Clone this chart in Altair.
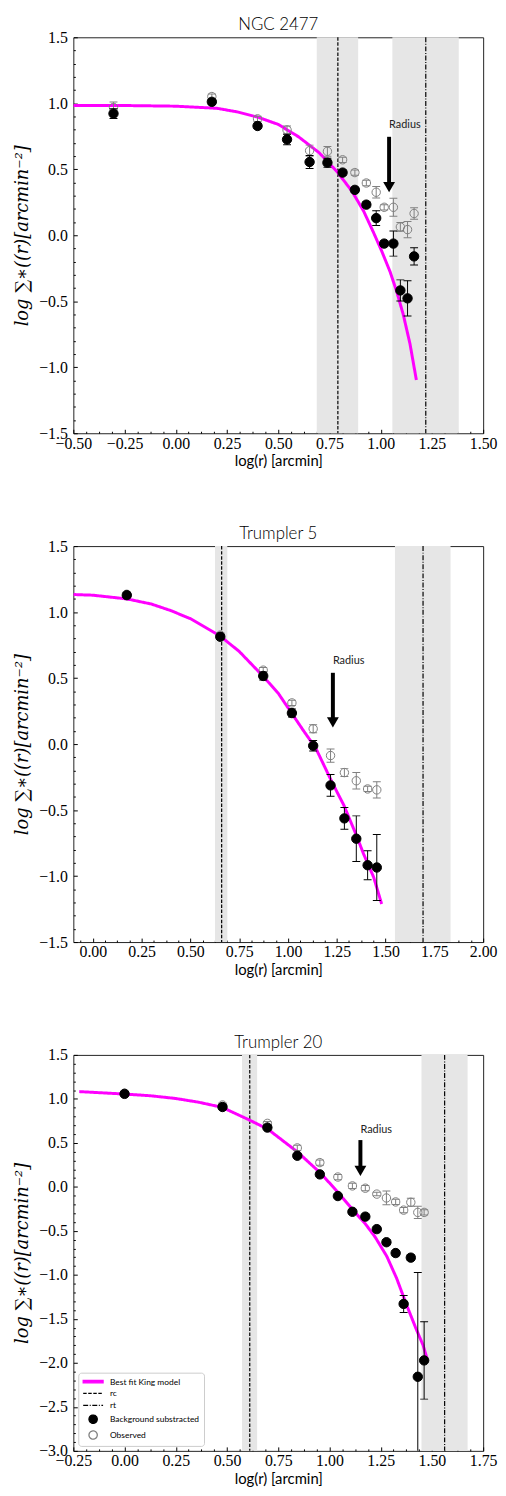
import altair as alt
import numpy as np
import pandas as pd

SERIES = ["Best fit King model", "rc", "rt", "Background substracted", "Observed"]

# ---------------- NGC 2477 ----------------
ngc_r = [-0.304, 0.176, 0.399, 0.543, 0.653, 0.740, 0.814, 0.874, 0.930, 0.978, 1.017, 1.062, 1.096, 1.131, 1.163]
ngc_bg = [0.922, 1.011, 0.828, 0.726, 0.555, 0.550, 0.475, 0.344, 0.232, 0.130, -0.063, -0.063, -0.418, -0.478, -0.160]
ngc_bg_err = [0.037, 0.02, 0.02, 0.04, 0.05, 0.034, 0.02, 0.02, 0.02, 0.056, 0.02, 0.095, 0.08, 0.134, 0.065]
ngc_obs = [0.969, 1.051, 0.882, 0.798, 0.641, 0.636, 0.572, 0.475, 0.396, 0.326, 0.212, 0.212, 0.063, 0.043, 0.165]
ngc_obs_err = [0.04, 0.02, 0.02, 0.03, 0.042, 0.037, 0.02, 0.02, 0.02, 0.043, 0.02, 0.068, 0.033, 0.062, 0.043]
ngc_king_r = [-0.5, -0.25, 0.0, 0.2, 0.3, 0.4, 0.5, 0.6, 0.7, 0.788, 0.861, 0.917, 0.965, 1.005, 1.046, 1.078, 1.110, 1.143, 1.174]
ngc_king = [0.984, 0.983, 0.978, 0.962, 0.935, 0.895, 0.84, 0.745, 0.625, 0.480, 0.331, 0.182, 0.021, -0.12, -0.277, -0.426, -0.600, -0.823, -1.096]

# ---------------- Trumpler 5 ----------------
tr5_r = [0.174, 0.653, 0.873, 1.020, 1.129, 1.218, 1.289, 1.350, 1.408, 1.455]
tr5_bg = [1.128, 0.813, 0.516, 0.235, -0.013, -0.313, -0.563, -0.717, -0.918, -0.935]
tr5_bg_err = [0.02, 0.02, 0.03, 0.03, 0.04, 0.083, 0.082, 0.173, 0.11, 0.25]
tr5_obs = [1.135, 0.826, 0.560, 0.312, 0.116, -0.087, -0.216, -0.278, -0.340, -0.347]
tr5_obs_err = [0.02, 0.02, 0.02, 0.02, 0.03, 0.05, 0.03, 0.062, 0.02, 0.062]
tr5_king_r = [-0.1, 0.0, 0.174, 0.3, 0.4, 0.5, 0.651, 0.75, 0.871, 0.95, 1.018, 1.08, 1.142, 1.226, 1.286, 1.350, 1.388, 1.439, 1.480]
tr5_king = [1.133, 1.128, 1.10, 1.061, 1.011, 0.950, 0.820, 0.702, 0.516, 0.385, 0.236, 0.10, -0.03, -0.29, -0.463, -0.69, -0.835, -1.009, -1.212]

# ---------------- Trumpler 20 ----------------
tr20_r = [0.0, 0.478, 0.697, 0.843, 0.953, 1.041, 1.112, 1.175, 1.231, 1.278, 1.323, 1.362, 1.397, 1.431, 1.462]
tr20_bg = [1.057, 0.908, 0.674, 0.354, 0.142, -0.104, -0.283, -0.338, -0.480, -0.629, -0.752, -1.330, -0.804, -2.158, -1.972]
tr20_bg_err = [0.02, 0.02, 0.02, 0.02, 0.02, 0.02, 0.02, 0.02, 0.02, 0.03, 0.03, 0.097, 0.03, 1.185, 0.44]
tr20_obs = [1.065, 0.931, 0.722, 0.443, 0.276, 0.112, 0.011, -0.015, -0.082, -0.126, -0.171, -0.264, -0.175, -0.290, -0.290]
tr20_obs_err = [0.02, 0.02, 0.02, 0.03, 0.03, 0.03, 0.03, 0.03, 0.02, 0.078, 0.03, 0.03, 0.045, 0.069, 0.03]
tr20_king_r = [-0.221, 0.0, 0.125, 0.249, 0.36, 0.475, 0.603, 0.700, 0.845, 0.958, 1.038, 1.110, 1.175, 1.223, 1.28, 1.328, 1.376, 1.424, 1.457, 1.476]
tr20_king = [1.083, 1.055, 1.036, 1.005, 0.963, 0.905, 0.767, 0.655, 0.395, 0.153, -0.052, -0.25, -0.42, -0.57, -0.79, -1.04, -1.34, -1.62, -1.80, -1.95]

# ---------------- per-panel annotations ----------------
titles = ["NGC 2477", "Trumpler 5", "Trumpler 20"]
rc_line = [0.791, 0.660, 0.611]
rc_band = [(0.688, 0.890), (0.626, 0.689), (0.573, 0.647)]
rt_line = [1.220, 1.692, 1.562]
rt_band = [(1.057, 1.381), (1.548, 1.833), (1.449, 1.674)]
arrow_x = [1.041, 1.230, 1.151]
arrow_top = [0.746, 0.540, 0.532]
arrow_tip = [0.326, 0.126, 0.123]
radius_text_y = [0.832, 0.627, 0.644]
x_domains = [(-0.5, 1.5), (-0.1, 2.0), (-0.25, 1.75)]
y_domains = [(-1.5, 1.5), (-1.5, 1.5), (-3.0, 1.5)]
x_ticks = [
    [-0.5, -0.25, 0.0, 0.25, 0.5, 0.75, 1.0, 1.25, 1.5],
    [0.0, 0.25, 0.5, 0.75, 1.0, 1.25, 1.5, 1.75, 2.0],
    [-0.25, 0.0, 0.25, 0.5, 0.75, 1.0, 1.25, 1.5, 1.75],
]
y_ticks = [
    [-1.5, -1.0, -0.5, 0.0, 0.5, 1.0, 1.5],
    [-1.5, -1.0, -0.5, 0.0, 0.5, 1.0, 1.5],
    [-3.0, -2.5, -2.0, -1.5, -1.0, -0.5, 0.0, 0.5, 1.0, 1.5],
]
X_MINOR_STEP = 0.0625
Y_MINOR_STEP = 0.1

DATA = [
    (ngc_r, ngc_bg, ngc_bg_err, ngc_obs, ngc_obs_err, ngc_king_r, ngc_king),
    (tr5_r, tr5_bg, tr5_bg_err, tr5_obs, tr5_obs_err, tr5_king_r, tr5_king),
    (tr20_r, tr20_bg, tr20_bg_err, tr20_obs, tr20_obs_err, tr20_king_r, tr20_king),
]

PLOT_W = 414
PLOT_H = 400
SERIF = "Liberation Serif"
SANS = "Lato"


def minor_ticks(lo, hi, step, majors):
    start = np.ceil(lo / step - 1e-9) * step
    vals = np.round(np.arange(start, hi + 1e-9, step), 5)
    return [float(v) for v in vals if all(abs(v - m) > 1e-6 for m in majors)]


def panel(i, show_legend):
    r, bg, bg_err, obs, obs_err, kr, ky = DATA[i]
    xs = alt.Scale(domain=list(x_domains[i]), nice=False, zero=False)
    ys = alt.Scale(domain=list(y_domains[i]), nice=False, zero=False)

    stroke_scale = alt.Scale(domain=SERIES, range=["#ff00ff", "black", "black", "black", "#808080"])
    fill_scale = alt.Scale(domain=SERIES, range=["#ff00ff", "transparent", "transparent", "black", "transparent"])
    dash_scale = alt.Scale(domain=SERIES, range=[[1, 0], [3.5, 1.6], [5, 1.6, 1, 1.6], [1, 0], [1, 0]])
    line_path = "M-2.4,0H2.4"
    rect_path = "M-2.4,-0.3H2.4V0.3H-2.4Z"
    shape_scale = alt.Scale(domain=SERIES, range=[rect_path, line_path, line_path, "circle", "circle"])
    leg = {} if show_legend else {"legend": None}

    def S(ch, **kw):
        return ch("series:N", title=None, **kw, **leg)

    noax = dict(axis=None)

    pts = pd.DataFrame({
        "r": r,
        "bg": bg, "bg_lo": np.array(bg) - np.array(bg_err), "bg_hi": np.array(bg) + np.array(bg_err),
        "obs": obs, "obs_lo": np.array(obs) - np.array(obs_err), "obs_hi": np.array(obs) + np.array(obs_err),
    })
    pts_bg = pts.assign(series="Background substracted")
    pts_obs = pts.assign(series="Observed")
    caps_bg = pd.concat([pd.DataFrame({"r": r, "y": pts["bg_lo"]}), pd.DataFrame({"r": r, "y": pts["bg_hi"]})])
    caps_obs = pd.concat([pd.DataFrame({"r": r, "y": pts["obs_lo"]}), pd.DataFrame({"r": r, "y": pts["obs_hi"]})])
    king = pd.DataFrame({"r": kr, "y": ky, "series": "Best fit King model"})
    vlines = pd.DataFrame({"r": [rc_line[i], rt_line[i]], "series": ["rc", "rt"]})
    bands = pd.DataFrame({"a": [rc_band[i][0], rt_band[i][0]], "b": [rc_band[i][1], rt_band[i][1]]})
    arrow = pd.DataFrame({"r": [arrow_x[i]], "top": [arrow_top[i]], "tip": [arrow_tip[i]],
                          "ty": [radius_text_y[i]], "label": ["Radius"]})

    xmin = minor_ticks(x_domains[i][0], x_domains[i][1], X_MINOR_STEP, x_ticks[i])
    ymin = minor_ticks(y_domains[i][0], y_domains[i][1], Y_MINOR_STEP, y_ticks[i])

    x_label_axis = alt.Axis(orient="bottom", values=x_ticks[i], format=".2f", ticks=False, domain=False,
                            grid=False, labelFont=SERIF, labelFontSize=16, labelColor="black",
                            labelPadding=2, labelOverlap=False, labelFlush=False,
                            title="log(r) [arcmin]", titleFont=SANS, titleFontSize=15,
                            titleFontWeight="normal", titleColor="black", titlePadding=3)
    y_label_axis = alt.Axis(orient="left", values=y_ticks[i], format=".1f", ticks=False, domain=False,
                            grid=False, labelFont=SERIF, labelFontSize=16, labelColor="black",
                            labelPadding=6, labelOverlap=False, labelFlush=False,
                            title="log \u2211\u2217((r)[arcmin\u207b\u00b2]", titleFont="DejaVu Serif",
                            titleFontStyle="italic", titleFontSize=18, titleFontWeight="normal",
                            titleColor="black", titlePadding=7)
    x_major_axis = alt.Axis(orient="bottom", values=x_ticks[i], labels=False, domain=False, grid=False,
                            tickSize=4, offset=-4, tickColor="black", tickWidth=1, title=None)
    y_major_axis = alt.Axis(orient="left", values=y_ticks[i], labels=False, domain=False, grid=False,
                            tickSize=4, offset=-4, tickColor="black", tickWidth=1, title=None)
    x_minor_axis = alt.Axis(orient="bottom", values=xmin, labels=False, domain=False, grid=False,
                            tickSize=2, offset=-2, tickColor="black", tickWidth=1, title=None)
    y_minor_axis = alt.Axis(orient="left", values=ymin, labels=False, domain=False, grid=False,
                            tickSize=2, offset=-2, tickColor="black", tickWidth=1, title=None)

    band_layer = alt.Chart(bands).mark_rect(color="#e6e6e6").encode(
        x=alt.X("a:Q", scale=xs, **noax), x2="b:Q")

    vline_layer = alt.Chart(vlines).mark_rule(strokeWidth=1.2).encode(
        x=alt.X("r:Q", scale=xs, **noax),
        stroke=S(alt.Stroke, scale=stroke_scale),
        strokeDash=S(alt.StrokeDash, scale=dash_scale))

    king_layer = alt.Chart(king).mark_line(strokeWidth=3, clip=True).encode(
        x=alt.X("r:Q", scale=xs, **noax), y=alt.Y("y:Q", scale=ys, **noax),
        stroke=S(alt.Stroke, scale=stroke_scale),
        strokeDash=S(alt.StrokeDash, scale=dash_scale))

    obs_err_layer = alt.Chart(pts).mark_rule(color="#808080", strokeWidth=1, clip=True).encode(
        x=alt.X("r:Q", scale=xs, **noax), y=alt.Y("obs_lo:Q", scale=ys, **noax), y2="obs_hi:Q")
    obs_cap_layer = alt.Chart(caps_obs).mark_tick(color="#808080", orient="horizontal", size=8,
                                                   thickness=1, opacity=1, clip=True).encode(
        x=alt.X("r:Q", scale=xs, **noax), y=alt.Y("y:Q", scale=ys, **noax))
    obs_layer = alt.Chart(pts_obs).mark_point(size=72, strokeWidth=1, opacity=1, filled=True).encode(
        x=alt.X("r:Q", scale=xs, **noax), y=alt.Y("obs:Q", scale=ys, **noax),
        stroke=S(alt.Stroke, scale=stroke_scale), fill=S(alt.Fill, scale=fill_scale),
        shape=S(alt.Shape, scale=shape_scale))

    bg_err_layer = alt.Chart(pts).mark_rule(color="black", strokeWidth=1, clip=True).encode(
        x=alt.X("r:Q", scale=xs, axis=x_major_axis), y=alt.Y("bg_lo:Q", scale=ys, axis=y_major_axis),
        y2="bg_hi:Q")
    bg_cap_layer = alt.Chart(caps_bg).mark_tick(color="black", orient="horizontal", size=8,
                                                 thickness=1, opacity=1, clip=True).encode(
        x=alt.X("r:Q", scale=xs, axis=x_minor_axis), y=alt.Y("y:Q", scale=ys, axis=y_minor_axis))
    bg_layer = alt.Chart(pts_bg).mark_point(size=90, strokeWidth=1, opacity=1, filled=True).encode(
        x=alt.X("r:Q", scale=xs, axis=x_label_axis), y=alt.Y("bg:Q", scale=ys, axis=y_label_axis),
        stroke=S(alt.Stroke, scale=stroke_scale), fill=S(alt.Fill, scale=fill_scale),
        shape=S(alt.Shape, scale=shape_scale))

    shaft = alt.Chart(arrow).mark_rule(color="black", strokeWidth=4, y2Offset=-5).encode(
        x=alt.X("r:Q", scale=xs, **noax), y=alt.Y("top:Q", scale=ys, **noax), y2="tip:Q")
    head = alt.Chart(arrow).mark_point(shape="triangle-down", size=144, filled=True, color="black",
                                       opacity=1, yOffset=-5.2).encode(
        x=alt.X("r:Q", scale=xs, **noax), y=alt.Y("tip:Q", scale=ys, **noax))
    text = alt.Chart(arrow).mark_text(align="left", baseline="middle", font=SANS, fontSize=11,
                                      color="#222222").encode(
        x=alt.X("r:Q", scale=xs, **noax), y=alt.Y("ty:Q", scale=ys, **noax), text="label:N")

    layer = alt.layer(band_layer, vline_layer, king_layer, obs_err_layer, obs_cap_layer, obs_layer,
                      bg_err_layer, bg_cap_layer, bg_layer, shaft, head, text).resolve_axis(
        x="independent", y="independent").properties(
        width=PLOT_W, height=PLOT_H,
        title=alt.TitleParams(titles[i], font=SANS, fontSize=17, fontWeight=300, color="black",
                              anchor="middle", offset=3, frame="group", dy=8))
    return layer


chart = alt.vconcat(panel(0, False), panel(1, False), panel(2, True), spacing=55).resolve_scale(
    stroke="independent", fill="independent", shape="independent", strokeDash="independent"
).properties(
    padding={"left": 5, "right": 0, "top": 0, "bottom": 0}
).configure_view(
    stroke="#222222", strokeWidth=1
).configure_legend(
    orient="bottom-left", offset=5, padding=4, strokeColor="#cccccc", fillColor="white",
    cornerRadius=3, labelFont=SANS, labelFontSize=8.5, labelColor="black", rowPadding=2,
    symbolSize=70, symbolStrokeWidth=1.3, symbolOffset=6, labelOffset=12, titlePadding=0
)

chart.save("out.html", embed_options={"renderer": "svg", "actions": False})
